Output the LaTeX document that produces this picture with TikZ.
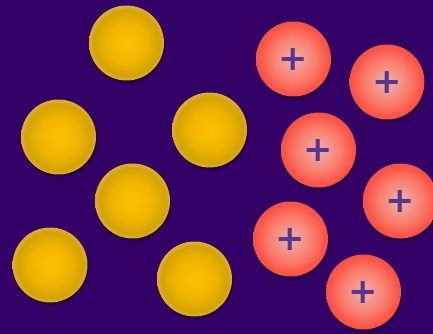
\documentclass[tikz,border=0pt]{standalone}
\usepackage{fontspec}
\usepackage{tikz}
\usetikzlibrary{shadows}
\newfontfamily\plusfont{DejaVu Sans}
\definecolor{bgpurple}{HTML}{330066}
\definecolor{goldcore}{HTML}{FFC000}
\definecolor{goldmid}{HTML}{EDB400}
\definecolor{golddark}{HTML}{D4A300}
\definecolor{goldrim}{HTML}{DDB035}
\definecolor{redcore}{HTML}{F2A39C}
\definecolor{redmid}{HTML}{F9806F}
\definecolor{reddark}{HTML}{FF5444}
\definecolor{redrim}{HTML}{EE5548}
\definecolor{plusink}{HTML}{58378F}
\pgfdeclareradialshading{goldshade}{\pgfpoint{0bp}{0bp}}{%
  color(0bp)=(goldcore); color(14bp)=(goldmid); color(22bp)=(golddark); color(25bp)=(goldrim); color(50bp)=(goldrim)}
\pgfdeclareradialshading{redshade}{\pgfpoint{0bp}{0bp}}{%
  color(0bp)=(redcore); color(4bp)=(redcore); color(14bp)=(redmid); color(23bp)=(reddark); color(25bp)=(redrim); color(50bp)=(redrim)}
\tikzset{
  ball/.style={circle, minimum size=1.5cm, inner sep=0pt, draw=none,
    drop shadow={shadow xshift=.6pt, shadow yshift=-1.8pt, opacity=.3, fill=black}},
  goldball/.style={ball, shading=goldshade},
  redball/.style={ball, shading=redshade, text=plusink, font=\plusfont\bfseries\fontsize{20}{20}\selectfont},
}

\begin{document}
\begin{tikzpicture}[x=0.02cm, y=-0.02cm]
    \useasboundingbox (0,0) rectangle (433,334);
    \fill[bgpurple] (0,0) rectangle (433,334);
    % neutral balls
    \foreach \n/\x/\y in {1/126.5/43, 2/58.5/137, 3/209.5/130, 4/132.5/201, 5/50/265, 6/194.5/279}{
      \node[goldball] (g\n) at (\x,\y) {};}
    % charged balls
    \foreach \n/\x/\y in {1/293.5/59, 2/387/82, 3/318.5/150, 4/400.5/201, 5/290.5/239, 6/363.5/292}{
      \node[redball] (r\n) at (\x,\y) {+};}
\end{tikzpicture}
\end{document}
